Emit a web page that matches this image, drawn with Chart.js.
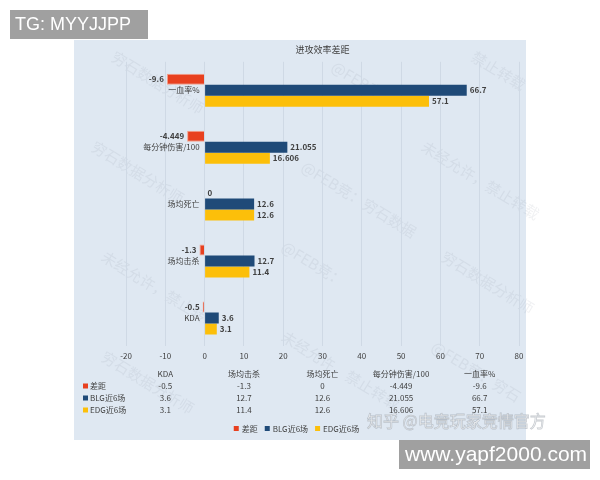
<!DOCTYPE html>
<html>
<head>
<meta charset="utf-8">
<script src="https://cdn.jsdelivr.net/npm/chart.js@4.4.1/dist/chart.umd.min.js"></script>
<style>
	html, body { margin: 0; padding: 0; background: #fff; }
	#wrap { position: relative; width: 600px; height: 480px; }
</style>
</head>
<body>
<div id="wrap"><canvas id="chart" width="600" height="480"></canvas></div>
<script>
// data (table order, KDA first -> bottom of chart)
const categories = ['KDA', '场均击杀', '场均死亡', '每分钟伤害/100', '一血率%'];
const seriesNames = ['差距', 'BLG近6场', 'EDG近6场'];
const gapValues = [-0.5, -1.3, 0, -4.449, -9.6];
const blgValues = [3.6, 12.7, 12.6, 21.055, 66.7];
const edgValues = [3.1, 11.4, 12.6, 16.606, 57.1];
const xMin = -20, xMax = 80, xStep = 10;

// colors
const gapColor = '#e8401f';
const blgColor = '#1f4a78';
const edgColor = '#fcbf0a';
const textColor = '#404040';
const font = '"Noto Sans CJK SC", "Noto Sans", sans-serif';

// background panel + faint watermarks
const panelPlugin = {
	id: 'panel',
	beforeDraw(chart) {
		const c = chart.ctx;
		c.save();
		c.fillStyle = '#ffffff';
		c.fillRect(0, 0, 600, 480);
		c.fillStyle = '#dfe8f2';
		c.fillRect(74, 40, 452, 400);
		// diagonal watermark text
		c.fillStyle = 'rgba(140,150,165,0.13)';
		c.font = '15px ' + font;
		const marks = [
			[110, 60, '穷石数据分析师'], [330, 70, '@FEB竞：'], [470, 60, '禁止转载'],
			[90, 150, '穷石数据分析师'], [300, 170, '@FEB竞：穷石数据'], [420, 150, '未经允许，禁止转载'],
			[100, 260, '未经允许，禁止转载'], [280, 250, '@FEB竞：'], [440, 260, '穷石数据分析师'],
			[100, 360, '穷石数据分析师'], [280, 340, '未经允许，禁止转载'], [430, 350, '@FEB竞：穷石']
		];
		marks.forEach(([x, y, t]) => {
			c.save();
			c.translate(x, y);
			c.rotate(0.55);
			c.fillText(t, 0, 0);
			c.restore();
		});
		c.restore();
	},
	afterDraw(chart) {
		const c = chart.ctx;
		const xs = chart.scales.x;
		const ys = chart.scales.y;
		const area = chart.chartArea;
		const zero = xs.getPixelForValue(0);
		c.save();

		// category labels next to the zero line
		c.fillStyle = textColor;
		c.font = '8px ' + font;
		c.textAlign = 'right';
		c.textBaseline = 'middle';
		categories.forEach((cat, i) => {
			c.fillText(cat, zero - 5, ys.getPixelForValue(i));
		});

		// data labels
		c.font = '600 8px ' + font;
		chart.data.datasets.forEach((ds, di) => {
			const meta = chart.getDatasetMeta(di);
			meta.data.forEach((bar, i) => {
				const v = ds.data[i];
				if (v < 0) {
					c.textAlign = 'right';
					c.fillText(String(v), bar.x - 3, bar.y);
				} else {
					c.textAlign = 'left';
					c.fillText(String(v), bar.x + 3, bar.y);
				}
			});
		});

		// data table
		const colW = (area.right - area.left) / categories.length;
		const rowY = [386, 398, 410];
		const rows = [gapValues, blgValues, edgValues];
		const colors = [gapColor, blgColor, edgColor];
		c.font = '8px ' + font;
		c.textAlign = 'center';
		categories.forEach((cat, i) => {
			const cx = area.left + colW * (i + 0.5);
			c.fillStyle = textColor;
			c.fillText(cat, cx, 374);
			rows.forEach((r, ri) => {
				c.fillText(String(r[i]), cx, rowY[ri]);
			});
		});
		seriesNames.forEach((name, ri) => {
			c.fillStyle = colors[ri];
			c.fillRect(83, rowY[ri] - 2.5, 5, 5);
			c.fillStyle = textColor;
			c.textAlign = 'left';
			c.fillText(name, 90, rowY[ri]);
		});

		// bottom legend
		c.font = '8px ' + font;
		let total = 0;
		const widths = seriesNames.map(n => c.measureText(n).width);
		widths.forEach(w => { total += 9 + w + 6; });
		let lx = 300 - total / 2;
		seriesNames.forEach((name, i) => {
			c.fillStyle = colors[i];
			c.fillRect(lx, 426, 5, 5);
			c.fillStyle = textColor;
			c.textAlign = 'left';
			c.fillText(name, lx + 8, 429);
			lx += 9 + widths[i] + 6;
		});

		// zhihu watermark
		c.font = '16px ' + font;
		c.textAlign = 'left';
		c.lineWidth = 0.8;
		c.strokeStyle = 'rgba(130,140,150,0.45)';
		c.fillStyle = 'rgba(255,255,255,0.9)';
		c.fillText('知乎 @电竞玩家竞情官方', 367, 421);
		c.strokeText('知乎 @电竞玩家竞情官方', 367, 421);

		// gray tag boxes
		c.fillStyle = '#a0a0a0';
		c.fillRect(10, 10, 138, 29);
		c.fillRect(399, 440, 191, 29);
		c.fillStyle = '#ffffff';
		c.font = '18px "Liberation Sans", Arial, sans-serif';
		c.fillText('TG: MYYJJPP', 15, 25);
		c.font = '21px "Liberation Sans", Arial, sans-serif';
		c.fillText('www.yapf2000.com', 405, 455);
		c.restore();
	}
};

new Chart(document.getElementById('chart'), {
	type: 'bar',
	data: {
		labels: categories,
		datasets: [
			{ label: seriesNames[0], data: gapValues, backgroundColor: gapColor, borderColor: '#f6a08a', borderWidth: 1 },
			{ label: seriesNames[1], data: blgValues, backgroundColor: blgColor },
			{ label: seriesNames[2], data: edgValues, backgroundColor: edgColor },
		]
	},
	options: {
		indexAxis: 'y',
		responsive: false,
		animation: false,
		categoryPercentage: 0.58,
		barPercentage: 1,
		layout: {
			padding: { left: 126, right: 81, top: 41, bottom: 114 }
		},
		scales: {
			x: {
				min: xMin,
				max: xMax,
				ticks: {
					stepSize: xStep,
					color: textColor,
					font: { size: 8, family: font },
					padding: 5,
				},
				grid: {
					color: '#cfd9e5',
					drawTicks: false,
				},
				border: { display: false },
			},
			y: {
				display: false,
				reverse: true,
			}
		},
		plugins: {
			legend: { display: false },
			tooltip: { enabled: false },
			title: {
				display: true,
				text: '进攻效率差距',
				color: textColor,
				font: { size: 9, family: font, weight: 'normal' },
				padding: { top: 3, bottom: 7 },
			}
		}
	},
	plugins: [panelPlugin]
});
</script>
</body>
</html>
